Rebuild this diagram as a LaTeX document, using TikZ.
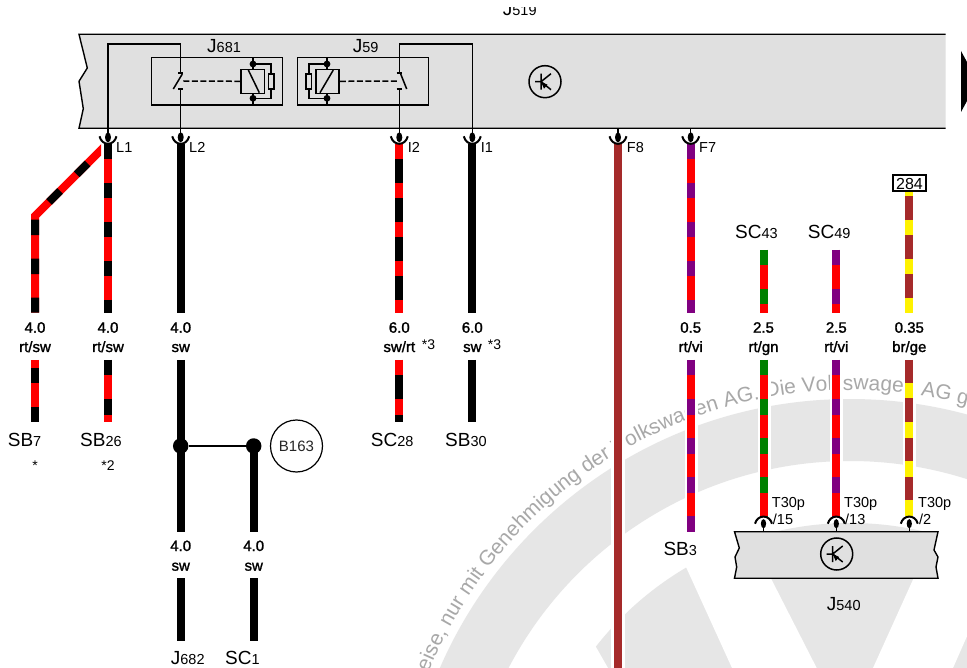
\documentclass[tikz,border=0pt]{standalone}
\usepackage{fontspec}
\setmainfont{Liberation Sans}
\newfontfamily\gaugefont[FakeBold=1.5]{Liberation Sans}
\usetikzlibrary{decorations.text}
\definecolor{panelgray}{HTML}{E0E0E0}
\definecolor{wmgray}{HTML}{E6E6E6}
\definecolor{wmtext}{HTML}{A8A8A8}
\definecolor{wbrown}{HTML}{A52A2A}
\definecolor{wviolet}{HTML}{800080}
\definecolor{wgreen}{HTML}{008000}
\newcommand\desig[2]{{\fontsize{19}{19}\selectfont #1}{\fontsize{14.5}{14.5}\selectfont #2}}
\newcommand\wmfont{\fontsize{20.9}{21}\selectfont\color{wmtext}}
\tikzset{
  plainwire/.style={line width=8pt,draw=#1},
  striped/.style n args={3}{line width=8pt,draw=#1,postaction={draw=#2,dash pattern=on 15.5pt off 23.5pt,dash phase=#3pt}},
  thin line/.style={line width=1.5pt,draw=black},
  framebox/.style={draw,line width=1.4pt,inner sep=0pt},
  desiglabel/.style={anchor=base west,inner sep=0pt,text=black},
  pinlabel/.style={anchor=base west,inner sep=0pt,font=\fontsize{14.5}{14.5}\selectfont,text=black},
  gauge/.style={anchor=base,inner sep=0pt,font=\gaugefont\fontsize{15}{15}\selectfont},
  note/.style={anchor=base west,inner sep=0pt,font=\fontsize{14}{14}\selectfont,text=black},
  halo/.style={fill=white,draw=none},
  cuptop/.pic={
    \draw[line width=1.5pt] (0,0) -- (0,10);
    \fill (0,9) ellipse [x radius=3,y radius=5];
    \draw[line width=2pt] (-8.5,8) .. controls (-6,18) and (6,18) .. (8.5,8);
  },
  cupbottom/.pic={
    \draw[line width=1.5pt] (0,0) -- (0,-9);
    \fill (0,-8) ellipse [x radius=2.6,y radius=4.6];
    \draw[line width=2pt] (-8.5,-8) .. controls (-6,-17.5) and (6,-17.5) .. (8.5,-8);
  },
  ecu/.pic={
    \draw[line width=1.5pt] (0,0) circle (16);
    \draw[line width=1.5pt] (-10,0) -- (-4,0) (-4,-8) -- (-4,8) (-4,0) -- (6,-8) (-4,0) -- (6,8);
    \fill (-4,0) -- (2.5,3) -- (-1,7) -- cycle;
  }
}
\begin{document}
\begin{tikzpicture}
\path[use as bounding box,clip] (0,0) rectangle (967pt,-668pt);
\fill[white] (0,0) rectangle (967pt,-668pt);
% watermark (y up, centred on the logo)
\begin{scope}[x=1pt,y=1pt,shift={(850pt,-846pt)}]
  \fill[wmgray,even odd rule] (0,0) circle (447) (0,0) circle (385);
  \fill[wmgray] (0,0) circle (323);
  \path[decorate,decoration={text along path,text align=left,
    text={|\wmfont|eise, nur mit Genehmigung der Volkswagen AG. Die Volkswagen AG g}}]
    (157.6:456) arc[start angle=157.6,end angle=60,radius=456];
\end{scope}
\begin{scope}[x=1pt,y=-1pt]
% white strokes of the logo, kept inside the white annulus
\begin{scope}
  \clip (850,846) circle (354);
  \fill[white] (655.5,500) -- (730.9,500) -- (816.7,668) -- (732,668) -- cycle;
  \fill[white] (949,500) -- (1027,500) -- (953,668) -- (873,668) -- cycle;
  \fill[white] (569,600) -- (608,668) -- (500,668) -- (500,600) -- cycle;
\end{scope}
% halos
\fill[halo] (611,140) rectangle (624.5,668);
\fill[halo] (684.5,360) rectangle (698,532);
\fill[halo] (758,360) rectangle (771,517);
\fill[halo] (830,360) rectangle (843,517);
\fill[halo] (902.5,360) rectangle (916,517);

% control unit J519
\fill[panelgray] (79,34.3) -- (87.3,68) -- (79,81.3) -- (83.3,108.7) -- (79,128.3) -- (945.7,128.3) -- (945.7,34.3) -- cycle;
\draw[line width=1.4pt] (945.7,34.3) -- (79,34.3) -- (87.3,68) -- (79,81.3) -- (83.3,108.7) -- (79,128.3) -- (945.7,128.3);
\node[desiglabel] (j519) at (502.7,16) {\desig{J}{519}};
\fill[white] (490,0) rectangle (550,7);
\fill (961,51) -- (967,62) -- (967,101) -- (961,112) -- cycle;

% pin coordinates on J519
\foreach \n/\x in {L1/108,L2/180.7,I2/399.3,I1/472.3,F8/618,F7/690.7}{
  \coordinate (\n) at (\x,128.3);
  \coordinate (s\n) at (\x,144);
}
% relay J681
\node[framebox,minimum width=131pt,minimum height=47.3pt] (r681) at (217.2,81.3) {};
\node[desiglabel] (j681) at (207,52.5) {\desig{J}{681}};
\node[framebox,minimum width=23.3pt,minimum height=24pt] (coilA) at (252.7,81.3) {};
\draw[thin line] (248.3,70) -- (259.3,92.7);
\fill (253,64) circle (3.4) (253,98.3) circle (3.4);
\draw[thin line] (253,57.7) -- (253,69.3) (253,93.3) -- (253,105);
\coordinate (dA1) at (253,64); \coordinate (dA2) at (253,98.3);
\draw[thin line] (dA1) -- (271,64) -- (271,74) (271,89) -- (271,98.3) -- (dA2);
\node[framebox,minimum width=5.6pt,minimum height=15pt] (resA) at (271,81.5) {};
\draw[thin line] (L1) -- (108,44) -- (180.7,44) -- (180.7,73);
\draw[thin line] (178,73) -- (183.4,73) (178,89) -- (183.4,89);
\draw[thin line] (L2) -- (180.7,89);
\draw[thin line] (182.3,74) -- (173.3,89);
\draw[thin line,dash pattern=on 6pt off 2.5pt] (183.3,81) -- (coilA.west);

% relay J59
\node[framebox,minimum width=131pt,minimum height=47.3pt] (r59) at (362.8,81.3) {};
\node[desiglabel] (j59) at (352.7,52.5) {\desig{J}{59}};
\node[framebox,minimum width=23.3pt,minimum height=24pt] (coilB) at (327.5,81.3) {};
\draw[thin line] (320,92.7) -- (333.3,70);
\fill (327,64) circle (3.4) (327,98.3) circle (3.4);
\draw[thin line] (327,57.7) -- (327,69.3) (327,93.3) -- (327,105);
\coordinate (dB1) at (327,64); \coordinate (dB2) at (327,98.3);
\draw[thin line] (dB1) -- (308.8,64) -- (308.8,74) (308.8,89) -- (308.8,98.3) -- (dB2);
\node[framebox,minimum width=5.6pt,minimum height=15pt] (resB) at (308.8,81.5) {};
\draw[thin line] (I1) -- (472.3,44) -- (399.3,44) -- (399.3,73);
\draw[thin line] (396.6,73) -- (402,73) (396.6,89) -- (402,89);
\draw[thin line] (I2) -- (399.3,89);
\draw[thin line] (400.7,74) -- (406.7,89);
\draw[thin line,dash pattern=on 6pt off 2.5pt] (coilB.east) -- (398,81);
\pic at (545,81.7) {ecu};

% pin labels
\node[pinlabel] (tL1) at (116,152.3) {L1};
\node[pinlabel] (tL2) at (189,152.3) {L2};
\node[pinlabel] (tI2) at (407.7,152.3) {I2};
\node[pinlabel] (tI1) at (480.7,152.3) {I1};
\node[pinlabel] (tF8) at (626.7,152.3) {F8};
\node[pinlabel] (tF7) at (699,152.3) {F7};

% end coordinates of wires
\coordinate (a1) at (108,312.7);   \coordinate (a2) at (108,360); \coordinate (a3) at (108,422);
\coordinate (b0) at (104,147);     \coordinate (b1) at (35,216);  \coordinate (b2) at (35,312.7);
\coordinate (b3) at (35,360);      \coordinate (b4) at (35,422);
\coordinate (c1) at (180.7,312.7); \coordinate (c2) at (180.7,360); \coordinate (c3) at (180.7,531.7);
\coordinate (c4) at (180.7,578);   \coordinate (c5) at (180.7,640.7);
\coordinate (d1) at (253.7,531.7); \coordinate (d2) at (253.7,578); \coordinate (d3) at (253.7,640.7);
\coordinate (e1) at (399.3,312.7); \coordinate (e2) at (399.3,360); \coordinate (e3) at (399.3,422);
\coordinate (f1) at (472.3,312.7); \coordinate (f2) at (472.3,360); \coordinate (f3) at (472.3,422);
\coordinate (g1) at (618,668);
\coordinate (h1) at (690.7,312.7); \coordinate (h2) at (690.7,360); \coordinate (h3) at (690.7,531.7);
\coordinate (i0) at (763.5,250);   \coordinate (i1) at (763.5,312.7); \coordinate (i2) at (763.5,360); \coordinate (i3) at (763.5,517);
\coordinate (j0) at (836.3,250);   \coordinate (j1) at (836.3,312.7); \coordinate (j2) at (836.3,360); \coordinate (j3) at (836.3,517);
\coordinate (k0) at (909.3,181);   \coordinate (k1) at (909.3,312.7); \coordinate (k2) at (909.3,360); \coordinate (k3) at (909.3,516);

% wires
\begin{scope}
  \clip (0,140) rectangle (101,320);
  \draw[striped={red}{black}{15.8},miter limit=10] (b0) -- (b1) -- (b2);
\end{scope}
\draw[striped={red}{black}{0}] (sL1) -- (a1);
\draw[striped={red}{black}{0}] (a2) -- (a3);
\draw[striped={red}{black}{31}] (b3) -- (b4);
\draw[plainwire=black] (sL2) -- (c1);
\draw[plainwire=black] (c2) -- (c3);
\draw[plainwire=black] (c4) -- (c5);
\draw[striped={black}{red}{0}] (sI2) -- (e1);
\draw[striped={black}{red}{0}] (e2) -- (e3);
\draw[plainwire=black] (sI1) -- (f1);
\draw[plainwire=black] (f2) -- (f3);
\draw[plainwire=wbrown] (sF8) -- (g1);
\draw[striped={red}{wviolet}{0}] (sF7) -- (h1);
\draw[striped={red}{wviolet}{0}] (h2) -- (h3);
\draw[striped={red}{wgreen}{0}] (i0) -- (i1);
\draw[striped={red}{wgreen}{0}] (i2) -- (i3);
\draw[striped={red}{wviolet}{0}] (j0) -- (j1);
\draw[striped={red}{wviolet}{0}] (j2) -- (j3);
\draw[striped={wbrown}{yellow}{0}] (k0) -- (k1);
\draw[striped={wbrown}{yellow}{16}] (k2) -- (k3);
\node[draw,line width=1.2pt,fill=white,minimum width=33pt,minimum height=16pt,inner sep=0pt] (box284) at (909.5,183) {};
\node[anchor=base,inner sep=0pt,font=\fontsize{16}{16}\selectfont] (t284) at (909.5,190) {284};

% sockets on J519
\foreach \n in {L1,L2,I2,I1,F8,F7}{ \pic at (\n) {cuptop}; }

% splice B163
\node[circle,fill=black,minimum size=15.5pt,inner sep=0pt] (s1) at (180.7,446) {};
\node[circle,fill=black,minimum size=15.5pt,inner sep=0pt] (s2) at (253.7,446) {};
\draw[line width=1.2pt] (s1) -- (s2);
\draw[plainwire=black] (s2.center) -- (d1);
\draw[plainwire=black] (d2) -- (d3);
\node[draw,circle,line width=1.2pt,minimum size=52pt,inner sep=0pt,font=\fontsize{15}{15}\selectfont,text=black!85] (b163) at (296.5,446) {B163};

% J540
\fill[panelgray] (734.5,531.7) -- (739.3,548) -- (735,557) -- (736.7,567) -- (734.5,578.2) -- (938,578.2) -- (936,567) -- (938,557) -- (934,550) -- (938,531.7) -- cycle;
\draw[line width=1.4pt] (734.5,531.7) -- (739.3,548) -- (735,557) -- (736.7,567) -- (734.5,578.2) -- (938,578.2) -- (936,567) -- (938,557) -- (934,550) -- (938,531.7) -- cycle;
\pic at (836.7,554) {ecu};
\foreach \x in {763.5,836.3,909.3}{ \pic at (\x,531.7) {cupbottom}; }
\node[desiglabel] (j540) at (826.7,610) {\desig{J}{540}};

% pin labels at J540
\node[pinlabel] (p1) at (771.7,507.7) {T30p};
\node[pinlabel] (p2) at (844,507.7) {T30p};
\node[pinlabel] (p3) at (918,507.7) {T30p};
\node[pinlabel] (q1) at (772.7,524) {/15};
\node[pinlabel] (q2) at (845,524) {/13};
\node[pinlabel] (q3) at (919,524) {/2};

% gauge and colour labels
\foreach \n/\x/\a/\b in {g1/35/4.0/rt\slash sw,g2/108/4.0/rt\slash sw,g3/180.7/4.0/sw,g4/399.3/6.0/sw\slash rt,g5/472.3/6.0/sw,g6/690.7/0.5/rt\slash vi,g7/763.5/2.5/rt\slash gn,g8/836.3/2.5/rt\slash vi,g9/909.3/0.35/br\slash ge}{
  \node[gauge] (\n a) at (\x,332.7) {\a};
  \node[gauge] (\n b) at (\x,352) {\b};
}
\foreach \n/\x in {g10/180.7,g11/253.7}{
  \node[gauge] (\n a) at (\x,551) {4.0};
  \node[gauge] (\n b) at (\x,570.7) {sw};
}
\node[note] (n1) at (421.7,350) {*3};
\node[note] (n2) at (487.7,350) {*3};
\node[anchor=base,inner sep=0pt,font=\fontsize{14}{14}\selectfont] (n3) at (35,470.7) {*};
\node[anchor=base,inner sep=0pt,font=\fontsize{14}{14}\selectfont] (n4) at (108,470.7) {*2};

% designations
\node[desiglabel] (l1) at (7.7,446) {\desig{SB}{7}};
\node[desiglabel] (l2) at (80,446) {\desig{SB}{26}};
\node[desiglabel] (l3) at (370.7,446) {\desig{SC}{28}};
\node[desiglabel] (l4) at (445,446) {\desig{SB}{30}};
\node[desiglabel] (l5) at (170.7,664) {\desig{J}{682}};
\node[desiglabel] (l6) at (225,664) {\desig{SC}{1}};
\node[desiglabel] (l7) at (663.3,555) {\desig{SB}{3}};
\node[desiglabel] (l8) at (735,238.3) {\desig{SC}{43}};
\node[desiglabel] (l9) at (807.7,238.3) {\desig{SC}{49}};
\end{scope}
\end{tikzpicture}
\end{document}
